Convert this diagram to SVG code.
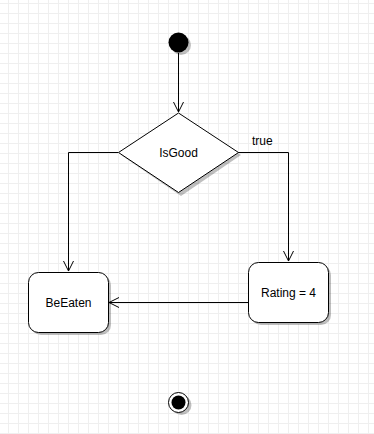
<svg xmlns="http://www.w3.org/2000/svg" width="374" height="434" viewBox="0 0 374 434">
<defs>
<pattern id="grid" x="8" y="3" width="10" height="10" patternUnits="userSpaceOnUse">
<path d="M0.5 0 V10 M0 0.5 H10" stroke="#efefef" stroke-width="1" fill="none"/>
</pattern>
<marker id="open" viewBox="0 0 12 12" refX="11" refY="6" markerWidth="12" markerHeight="12" markerUnits="userSpaceOnUse" orient="auto">
<path d="M1 1 L11 6 L1 11" fill="none" stroke="#000" stroke-width="1"/>
</marker>
</defs>
<style>
.shape{fill:#fff;stroke:#000;stroke-width:1}
.shadow{fill:#000;fill-opacity:0.25;stroke:none}
.edge{fill:none;stroke:#000;stroke-width:1}
text{font-family:"Liberation Sans",Arial,sans-serif;font-size:12px;fill:#000}
.c{text-anchor:middle}
</style>
<rect width="374" height="434" fill="#fff"/>
<rect width="374" height="434" fill="url(#grid)"/>
<g id="connectors">
<path class="edge" d="M178.5 53 V112" marker-end="url(#open)"/>
<path class="edge" d="M118 152.5 H68.5 V271" marker-end="url(#open)"/>
<path class="edge" d="M238 152.5 H288.5 V261" marker-end="url(#open)"/>
<text x="252" y="145">true</text>
<path class="edge" d="M248 302.5 H109" marker-end="url(#open)"/>
</g>
<g id="start">
<circle class="shadow" cx="181" cy="45" r="10"/>
<circle cx="178.5" cy="42.5" r="10" fill="#000"/>
</g>
<g id="isgood">
<polygon class="shadow" points="181,116 241,155 181,196 121,155"/>
<polygon class="shape" points="178.5,113 238.5,152.5 178.5,192.5 118.5,152.5"/>
<text class="c" x="178.5" y="157">IsGood</text>
</g>
<g id="beeaten">
<rect class="shadow" x="31" y="275" width="80" height="60" rx="10"/>
<rect class="shape" x="28.5" y="272.5" width="80" height="60" rx="10"/>
<text class="c" x="68.5" y="307">BeEaten</text>
</g>
<g id="rating">
<rect class="shadow" x="251" y="265" width="80" height="60" rx="10"/>
<rect class="shape" x="248.5" y="262.5" width="80" height="60" rx="10"/>
<text class="c" x="288.5" y="297">Rating = 4</text>
</g>
<g id="end">
<circle class="shadow" cx="181.5" cy="405" r="10"/>
<circle cx="178.5" cy="402.5" r="10" fill="#fff" stroke="#000" stroke-width="1"/>
<circle cx="178.5" cy="402.5" r="7" fill="#000"/>
</g>
</svg>
